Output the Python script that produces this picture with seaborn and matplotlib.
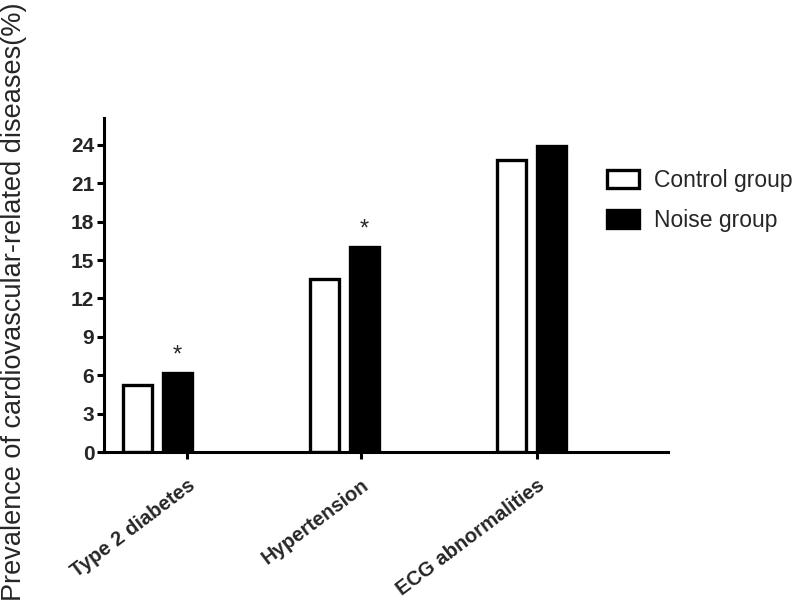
import matplotlib

matplotlib.use("Agg")
import matplotlib.pyplot as plt
import pandas as pd
import seaborn as sns

categories = ["Type 2 diabetes", "Hypertension", "ECG abnormalities"]
groups = ["Control group", "Noise group"]
control_vals = [5.2, 13.5, 22.8]
noise_vals = [6.2, 16.0, 23.9]
significant = [True, True, False]  # asterisk above the noise bar
y_ticks = [0, 3, 6, 9, 12, 15, 18, 21, 24]

sns.set_theme(style="white")
plt.rcParams["font.family"] = ["Liberation Sans", "DejaVu Sans"]

df = pd.DataFrame({
    "category": categories * 2,
    "group": [groups[0]] * 3 + [groups[1]] * 3,
    "value": control_vals + noise_vals,
})

fig = plt.figure(figsize=(8, 6.07), dpi=100)
ax = fig.add_axes([104 / 800, 155 / 607, 564 / 800, 334 / 607])

sns.barplot(data=df, x="category", y="value", hue="group", order=categories,
            hue_order=groups, palette={groups[0]: "white", groups[1]: "black"},
            edgecolor="black", linewidth=2.4, width=0.43, gap=0.27,
            errorbar=None, ax=ax)

# significance marks on noise bars
for p, sig in zip(ax.containers[1].patches, significant):
    if sig:
        ax.text(p.get_x() + p.get_width() / 2, p.get_height() + 0.5, "*",
                ha="center", va="bottom", fontsize=17)

ax.set_xlim(-0.286, 2.73)
ax.set_ylim(0, 26.1)
ax.set_yticks(y_ticks)
ax.set_yticklabels([str(t) for t in y_ticks], fontsize=15, fontweight="bold")
# Prism puts the category ticks just right of each bar pair
ax.set_xticks([0.16, 1.09, 2.03])
ax.set_xticklabels(categories, rotation=37, ha="right", rotation_mode="anchor",
                   fontsize=14.5, fontweight="bold")
ax.tick_params(axis="both", direction="out", length=5, width=2.2, color="black",
               left=True, bottom=True)
ax.tick_params(axis="x", pad=12)
ax.tick_params(axis="y", pad=2)
for side in ["top", "right"]:
    ax.spines[side].set_visible(False)
for side in ["left", "bottom"]:
    ax.spines[side].set_linewidth(2.2)
    ax.spines[side].set_color("black")

ax.set_xlabel("")
ax.set_ylabel("Prevalence of cardiovascular-related diseases(%)", fontsize=19.5)
ax.yaxis.set_label_coords(-0.137, 0.45)

handles, labels = ax.get_legend_handles_labels()
ax.legend(handles, labels, loc="center left", bbox_to_anchor=(0.733, 0.67),
          bbox_transform=fig.transFigure, frameon=False, fontsize=16.5,
          handlelength=1.4, handleheight=0.8, labelspacing=0.75, handletextpad=0.65)

fig.savefig("out.png", dpi=100)
